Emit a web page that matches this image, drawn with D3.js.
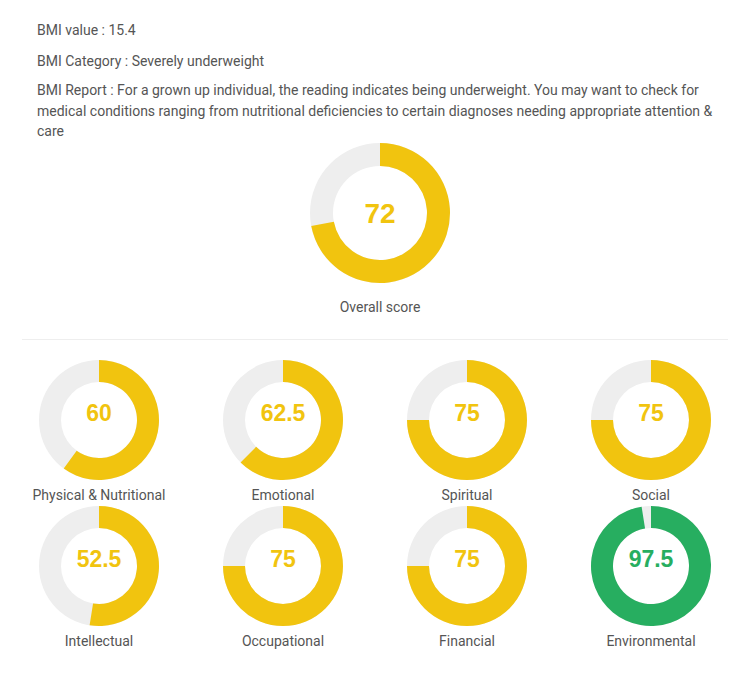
<!DOCTYPE html>
<html><head><meta charset="utf-8">
<script src="https://cdn.jsdelivr.net/npm/d3@7"></script>
<style>body{margin:0;background:#fff;}svg{display:block;font-family:Roboto,sans-serif;}</style>
</head><body>
<svg id="c" width="750" height="674"></svg>
<script>
const infoLines = [
  "BMI value : 15.4",
  "BMI Category : Severely underweight",
  "BMI Report : For a grown up individual, the reading indicates being underweight. You may want to check for",
  "medical conditions ranging from nutritional deficiencies to certain diagnoses needing appropriate attention &",
  "care"
];
const infoY = [35, 66, 95, 116, 136];
const overall = {label: "Overall score", value: 72};
const categories = ["Physical & Nutritional","Emotional","Spiritual","Social","Intellectual","Occupational","Financial","Environmental"];
const values = [60, 62.5, 75, 75, 52.5, 75, 75, 97.5];

const svg = d3.select("#c");
svg.selectAll("text.info").data(infoLines).join("text")
  .attr("class","info").attr("x",37).attr("y",(d,i)=>infoY[i])
  .attr("font-size",14).attr("fill","#555").text(d=>d);

const colorFor = v => v >= 90 ? "#27ae60" : "#f1c40f";
const scale = d3.scaleLinear().domain([0,100]).range([0, 2*Math.PI]);

function donut(g, value, label, rOut, rIn, fs, dyVal, labelY, lfs){
  const arc = d3.arc().innerRadius(rIn).outerRadius(rOut);
  g.append("path").attr("d", arc({startAngle: 0, endAngle: 2*Math.PI})).attr("fill","#eeeeee");
  g.append("path").attr("d", arc({startAngle: 0, endAngle: scale(value)})).attr("fill", colorFor(value));
  g.append("text").attr("text-anchor","middle").attr("y", dyVal).attr("dominant-baseline","central")
    .attr("font-family","'Liberation Sans',Arial,sans-serif")
    .attr("font-size",fs).attr("font-weight","bold").attr("fill",colorFor(value)).text(value);
  g.append("text").attr("text-anchor","middle").attr("y", labelY)
    .attr("font-size",lfs).attr("fill","#555").text(label);
}

donut(svg.append("g").attr("transform","translate(380,213)"), overall.value, overall.label, 70, 47, 28, 0, 99, 14);

svg.append("line").attr("x1",22).attr("x2",728).attr("y1",339.5).attr("y2",339.5).attr("stroke","#eee");

const colX = d3.scalePoint().domain([0,1,2,3]).range([99, 651]);
const rowY = d3.scalePoint().domain([0,1]).range([420, 566]);
categories.forEach((c,i)=>{
  const g = svg.append("g").attr("transform",`translate(${colX(i%4)},${rowY(Math.floor(i/4))})`);
  donut(g, values[i], c, 60, 38, 23, -7, 80, 14);
});
</script>
</body></html>
